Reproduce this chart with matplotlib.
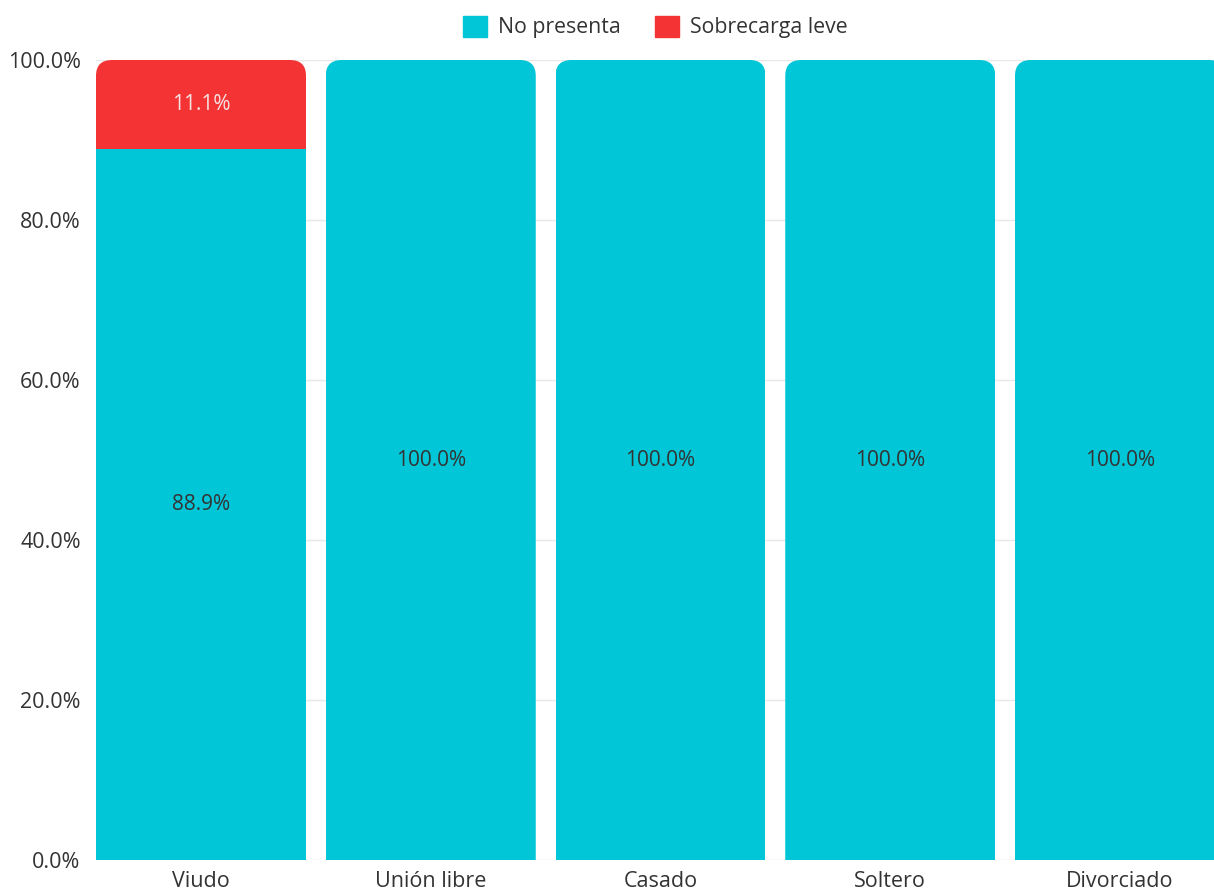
import numpy as np
import matplotlib.pyplot as plt
from matplotlib.patches import FancyBboxPatch, Patch

plt.rcParams['font.family'] = ['Open Sans', 'DejaVu Sans']

categories = ["Viudo", "Unión libre", "Casado", "Soltero", "Divorciado"]
no_presenta = [88.9, 100.0, 100.0, 100.0, 100.0]
sobrecarga_leve = [11.1, 0.0, 0.0, 0.0, 0.0]
yticks = [0, 20, 40, 60, 80, 100]

cyan = "#00c6d7"
red = "#f43434"

fig = plt.figure(figsize=(12.14, 8.92), dpi=100)
ax = fig.add_axes([96 / 1214, 32 / 892, (1214 - 96) / 1214, 800 / 892])

x = np.arange(len(categories))
w = 0.914
b1 = ax.bar(x, no_presenta, width=w, color=cyan, zorder=2)
b2 = ax.bar(x, sobrecarga_leve, width=w, bottom=no_presenta, color=red, zorder=2)

# rounded top corners: clip each stack to a rounded box
for i in range(len(categories)):
    top = no_presenta[i] + sobrecarga_leve[i]
    clip = FancyBboxPatch((x[i] - w / 2, -10), w, top + 10,
                          boxstyle="round,pad=0,rounding_size=0.07",
                          mutation_aspect=28.0, transform=ax.transData,
                          facecolor="none", edgecolor="none")
    ax.add_patch(clip)
    b1[i].set_clip_path(clip)
    b2[i].set_clip_path(clip)

for i in range(len(categories)):
    ax.text(x[i], no_presenta[i] / 2, "{:.1f}%".format(no_presenta[i]),
            ha="center", va="center", fontsize=15, color="#333333", zorder=3)
    if sobrecarga_leve[i] > 0:
        ax.text(x[i], no_presenta[i] + sobrecarga_leve[i] / 2,
                "{:.1f}%".format(sobrecarga_leve[i]),
                ha="center", va="center", fontsize=15, color="#f6e2e2", zorder=3)

ax.set_xlim((96 - 201) / 229.75, (1214 - 201) / 229.75)
ax.set_ylim(0, 100)
ax.set_yticks(yticks)
ax.set_yticklabels(["{:.1f}%".format(v) for v in yticks])
ax.set_xticks(x)
ax.set_xticklabels(categories)
ax.tick_params(axis="both", length=0, labelsize=15.5, colors="#333333")
ax.tick_params(axis="y", pad=11)
ax.tick_params(axis="x", pad=8)
ax.grid(axis="y", color="#e8e8e8", linewidth=1, zorder=0)
for s in ax.spines.values():
    s.set_visible(False)

handles = [Patch(color=cyan, label="No presenta"), Patch(color=red, label="Sobrecarga leve")]
fig.legend(handles=handles, loc="center", bbox_to_anchor=(655 / 1214, 1 - 27 / 892), ncol=2,
           frameon=False, fontsize=15.3, handlelength=1.15, handleheight=1.15,
           columnspacing=1.6, handletextpad=0.5, labelcolor="#333333",
           borderpad=0, borderaxespad=0)

plt.savefig("out.png", dpi=100)
